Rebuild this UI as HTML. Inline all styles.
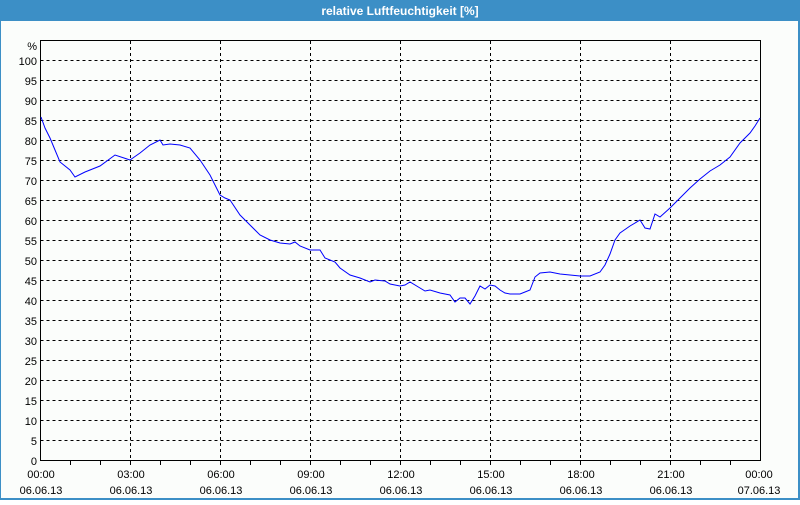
<!DOCTYPE html>
<html><head><meta charset="utf-8"><style>
body{margin:0;width:800px;height:500px;overflow:hidden;background:#fff}
</style></head><body>
<svg width="800" height="500" xmlns="http://www.w3.org/2000/svg" font-family="Liberation Sans, DejaVu Sans, sans-serif">
<rect x="0" y="0" width="800" height="500" fill="#3c8fc6"/>
<rect x="1" y="21" width="797" height="477" fill="#fbfdfb"/>
<text x="400" y="15" fill="#fff" font-size="12" font-weight="bold" text-anchor="middle">relative Luftfeuchtigkeit [%]</text>
<g stroke="#000" stroke-width="1" stroke-dasharray="3,3" shape-rendering="crispEdges">
<path d="M40.5 60.5H760M40.5 80.5H760M40.5 100.5H760M40.5 120.5H760M40.5 140.5H760M40.5 160.5H760M40.5 180.5H760M40.5 200.5H760M40.5 220.5H760M40.5 240.5H760M40.5 260.5H760M40.5 280.5H760M40.5 300.5H760M40.5 320.5H760M40.5 340.5H760M40.5 360.5H760M40.5 380.5H760M40.5 400.5H760M40.5 420.5H760M40.5 440.5H760"/>
<path d="M130.5 41V460M220.5 41V460M310.5 41V460M400.5 41V460M490.5 41V460M580.5 41V460M670.5 41V460"/>
</g>
<rect x="40.5" y="40.5" width="720" height="420" fill="none" stroke="#000" shape-rendering="crispEdges"/>
<g stroke="#000" shape-rendering="crispEdges">
<path d="M70.5 461v4M100.5 461v4M130.5 461v4M160.5 461v4M190.5 461v4M220.5 461v4M250.5 461v4M280.5 461v4M310.5 461v4M340.5 461v4M370.5 461v4M400.5 461v4M430.5 461v4M460.5 461v4M490.5 461v4M520.5 461v4M550.5 461v4M580.5 461v4M610.5 461v4M640.5 461v4M670.5 461v4M700.5 461v4M730.5 461v4"/>
</g>
<g font-size="11" fill="#000" text-anchor="end">
<text x="37" y="50">%</text>
<text x="37" y="65">100</text><text x="37" y="85">95</text><text x="37" y="105">90</text><text x="37" y="125">85</text><text x="37" y="145">80</text><text x="37" y="165">75</text><text x="37" y="185">70</text><text x="37" y="205">65</text><text x="37" y="225">60</text><text x="37" y="245">55</text><text x="37" y="265">50</text><text x="37" y="285">45</text><text x="37" y="305">40</text><text x="37" y="325">35</text><text x="37" y="345">30</text><text x="37" y="365">25</text><text x="37" y="385">20</text><text x="37" y="405">15</text><text x="37" y="425">10</text><text x="37" y="445">5</text><text x="37" y="465">0</text>
</g>
<g font-size="11" fill="#000" text-anchor="middle">
<text x="41" y="478">00:00</text><text x="41" y="494">06.06.13</text>
<text x="131" y="478">03:00</text><text x="131" y="494">06.06.13</text>
<text x="221" y="478">06:00</text><text x="221" y="494">06.06.13</text>
<text x="311" y="478">09:00</text><text x="311" y="494">06.06.13</text>
<text x="401" y="478">12:00</text><text x="401" y="494">06.06.13</text>
<text x="491" y="478">15:00</text><text x="491" y="494">06.06.13</text>
<text x="581" y="478">18:00</text><text x="581" y="494">06.06.13</text>
<text x="671" y="478">21:00</text><text x="671" y="494">06.06.13</text>
<text x="759" y="478">00:00</text><text x="759" y="494">07.06.13</text>
</g>
<polyline fill="none" stroke="#0000ff" stroke-width="1" points="41,117 45,128 50,138 55,150 60,162 70,170 75,177 85,172 100,166 115,155 130,160 140,153 150,145 160,140 163,145 170,144 180,145 190,148 200,160 210,175 220,195 225,198 230,200 240,215 250,225 260,235 270,240 280,243 290,244 295,242 300,246 310,250 320,250 325,258 335,262 340,268 350,275 360,278 370,282 375,280 385,281 390,284 400,286 405,285 410,282 420,288 425,291 430,290 440,293 450,295 455,302 460,298 465,298 470,304 475,296 480,286 485,289 490,285 495,286 500,290 505,293 510,294 520,294 525,292 530,290 535,277 540,273 550,272 560,274 570,275 580,276 590,276 600,272 605,265 610,254 615,240 620,233 630,226 640,220 645,228 650,229 655,214 660,217 670,208 680,198 690,188 700,179 710,171 720,165 730,157 740,143 750,133 755,126 760,118"/>
</svg>
</body></html>
